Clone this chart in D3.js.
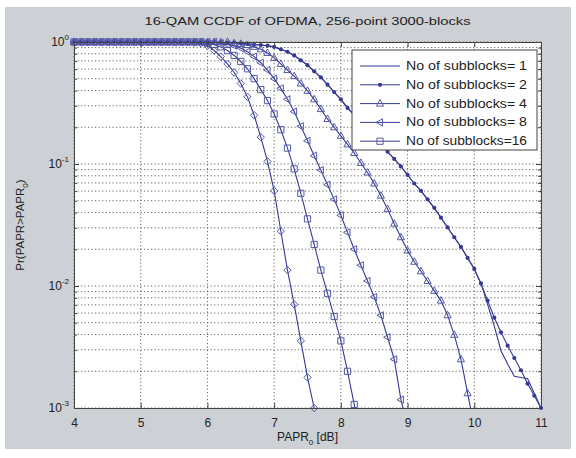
<!DOCTYPE html>
<html>
<head>
<meta charset="utf-8">
<script src="https://cdn.jsdelivr.net/npm/d3@7"></script>
<style>
  body { margin: 0; background: #fff; }
  text { font-family: "Liberation Sans", Arial, sans-serif; fill: #222; }
</style>
</head>
<body>
<div id="chart"></div>
<script>
// PAPR0 grid (dB)
var papr = [4.0,4.1,4.2,4.3,4.4,4.5,4.6,4.7,4.8,4.9,5.0,5.1,5.2,5.3,5.4,5.5,5.6,5.7,5.8,5.9,
  6.0,6.1,6.2,6.3,6.4,6.5,6.6,6.7,6.8,6.9,7.0,7.1,7.2,7.3,7.4,7.5,7.6,7.7,7.8,7.9,
  8.0,8.1,8.2,8.3,8.4,8.5,8.6,8.7,8.8,8.9,9.0,9.1,9.2,9.3,9.4,9.5,9.6,9.7,9.8,9.9,
  10.0,10.1,10.2,10.3,10.4,10.5,10.6,10.7,10.8,10.9,11.0];

// CCDF values, one per grid point
var ccdfSb1 = [1,1,1,1,1,1,1,1,1,1, 1,1,1,1,1,1,1,1,1,1, 1,1,1,0.989,0.989,0.977,0.966,0.955,0.944,0.933,
  0.912,0.871,0.832,0.776,0.708,0.646,0.575,0.513,0.447,0.389, 0.339,0.288,0.251,0.219,0.191,0.166,0.145,0.126,0.110,0.0955,
  0.0813,0.0692,0.0603,0.0513,0.0437,0.0363,0.0302,0.0251,0.0209,0.0170, 0.0138,0.0105,0.00708,0.00468,0.00295,0.00229,0.00182,0.00178,0.00174,0.00132,0.00100];
var ccdfSb2 = [1,1,1,1,1,1,1,1,1,1, 1,1,1,1,1,1,1,1,1,1, 1,1,1,0.989,0.989,0.977,0.966,0.955,0.944,0.933,
  0.912,0.871,0.832,0.776,0.708,0.646,0.575,0.513,0.447,0.389, 0.339,0.288,0.251,0.219,0.191,0.166,0.145,0.126,0.110,0.0955,
  0.0813,0.0692,0.0603,0.0513,0.0437,0.0363,0.0302,0.0251,0.0209,0.0170, 0.0138,0.0105,0.00759,0.00550,0.00417,0.00324,0.00257,0.00204,0.00158,0.00126,0.00100];
var ccdfSb4 = [1,1,1,1,1,1,1,1,1,1, 1,1,1,1,1,1,1,1,1,1, 1,1,1,1,0.977,0.966,0.944,0.912,0.871,0.813,
  0.741,0.661,0.589,0.525,0.457,0.398,0.339,0.282,0.234,0.200, 0.170,0.145,0.123,0.102,0.0851,0.0692,0.0550,0.0427,0.0324,0.0251,
  0.0195,0.0158,0.0132,0.0110,0.00912,0.00759,0.00575,0.00398,0.00251,0.00132, 0.0007];
var ccdfSb8 = [1,1,1,1,1,1,1,1,1,1, 1,1,1,1,1,1,1,1,1,1, 1,1,0.977,0.955,0.933,0.891,0.832,0.759,0.676,0.589,
  0.501,0.417,0.339,0.269,0.204,0.155,0.117,0.0891,0.0676,0.0513, 0.0380,0.0275,0.0200,0.0148,0.0110,0.00813,0.00575,0.00380,0.00251,0.00117,
  0.0007];
var ccdfSb16 = [1,1,1,1,1,1,1,1,1,1, 1,1,1,1,1,1,1,1,1,1, 0.977,0.955,0.912,0.851,0.776,0.692,0.603,0.501,0.407,0.331,
  0.257,0.191,0.135,0.0912,0.0575,0.0355,0.0219,0.0135,0.00871,0.00562, 0.00355,0.00200,0.00107,0.0005];
var ccdfExtra = [1,1,1,1,1,1,1,1,1,1, 1,1,1,1,1,1,1,1,0.989,0.977,
  0.933,0.851,0.759,0.661,0.562,0.457,0.355,0.251,0.166,0.105, 0.0603,0.0282,0.0135,0.00708,0.00355,0.00178,0.00100];

var legendLabels = ["No of subblocks= 1", "No of subblocks= 2", "No of subblocks= 4", "No of subblocks= 8", "No of subblocks=16"];
var xTicks = [4, 5, 6, 7, 8, 9, 10, 11];
var yDecades = [1e-3, 1e-2, 1e-1, 1];
var yExponents = ["-3", "-2", "-1", "0"];

var series = [
  {values: ccdfSb1, marker: "none"},
  {values: ccdfSb2, marker: "dot"},
  {values: ccdfSb4, marker: "tri"},
  {values: ccdfSb8, marker: "left"},
  {values: ccdfSb16, marker: "square"},
  {values: ccdfExtra, marker: "diamond"}
];

var W = 576, H = 458;
var pLeft = 74, pRight = 541, pTop = 42, pBottom = 408;
var lineColor = "#363a96", markColor = "#5659a6";

var svg = d3.select("#chart").append("svg").attr("width", W).attr("height", H);

svg.append("rect").attr("x", 5).attr("y", 7).attr("width", 566).attr("height", 442).attr("fill", "#cdd0d4");
svg.append("rect").attr("x", pLeft).attr("y", pTop).attr("width", pRight - pLeft).attr("height", pBottom - pTop).attr("fill", "#fff");

var x = d3.scaleLinear().domain([4, 11]).range([pLeft, pRight]);
var y = d3.scaleLog().domain([1e-3, 1]).range([pBottom, pTop]);

// grid
var minor = [];
[1e-3, 1e-2, 1e-1].forEach(function(d) {
  for (var k = 1; k <= 9; k++) minor.push(k * d);
});
minor.push(1);
var grid = svg.append("g").attr("stroke", "#555").attr("stroke-width", 0.9).attr("stroke-dasharray", "1.2,2.3");
grid.selectAll("line.gy").data(minor).enter().append("line")
  .attr("x1", pLeft).attr("x2", pRight).attr("y1", function(d) { return y(d); }).attr("y2", function(d) { return y(d); });
grid.selectAll("line.gx").data(xTicks).enter().append("line")
  .attr("y1", pTop).attr("y2", pBottom).attr("x1", function(d) { return x(d); }).attr("x2", function(d) { return x(d); });

// curves
svg.append("clipPath").attr("id", "clip").append("rect")
  .attr("x", pLeft).attr("y", pTop).attr("width", pRight - pLeft).attr("height", pBottom - pTop);

var line = d3.line().x(function(d) { return x(d[0]); }).y(function(d) { return y(d[1]); });

function markerPath(type) {
  if (type == "tri") return "M0,-4L3.6,2.5L-3.6,2.5Z";
  if (type == "left") return "M-4,0L2.5,-3.6L2.5,3.6Z";
  if (type == "square") return "M-3.1,-3.1H3.1V3.1H-3.1Z";
  if (type == "diamond") return "M0,-3.8L3.6,0L0,3.8L-3.6,0Z";
  return null;
}

series.forEach(function(s) {
  var pts = s.values.map(function(v, i) { return [papr[i], v]; });
  svg.append("path").datum(pts).attr("clip-path", "url(#clip)")
    .attr("fill", "none").attr("stroke", lineColor).attr("stroke-width", 1.1).attr("d", line);
  var shown = pts.filter(function(d) { return d[1] >= 1e-3; });
  if (s.marker == "dot") {
    svg.append("g").selectAll("circle").data(shown).enter().append("circle")
      .attr("cx", function(d) { return x(d[0]); }).attr("cy", function(d) { return y(d[1]); })
      .attr("r", 2.1).attr("fill", lineColor);
  } else if (s.marker != "none") {
    svg.append("g").selectAll("path").data(shown).enter().append("path")
      .attr("transform", function(d) { return "translate(" + x(d[0]) + "," + y(d[1]) + ")"; })
      .attr("d", markerPath(s.marker)).attr("fill", "none").attr("stroke", markColor).attr("stroke-width", 1);
  }
});

// axes
var xAxis = svg.append("g").attr("transform", "translate(0," + pBottom + ")")
  .call(d3.axisBottom(x).tickValues(xTicks).tickSize(-5).tickPadding(10).tickFormat(d3.format("d")));
var xAxisTop = svg.append("g").attr("transform", "translate(0," + pTop + ")")
  .call(d3.axisTop(x).tickValues(xTicks).tickSize(-5).tickFormat(""));
var yAxis = svg.append("g").attr("transform", "translate(" + pLeft + ",0)")
  .call(d3.axisLeft(y).tickValues(minor).tickSize(-3).tickFormat(""));
var yAxisR = svg.append("g").attr("transform", "translate(" + pRight + ",0)")
  .call(d3.axisRight(y).tickValues(minor).tickSize(-3).tickFormat(""));
[xAxis, xAxisTop, yAxis, yAxisR].forEach(function(a) {
  a.select(".domain").attr("stroke", "#444");
  a.selectAll(".tick line").attr("stroke", "#444");
  a.selectAll("text").attr("font-size", 12).attr("fill", "#222");
});
yAxis.selectAll(".tick line").filter(function(d) { return yDecades.indexOf(d) >= 0; }).attr("x2", 5);
yAxisR.selectAll(".tick line").filter(function(d) { return yDecades.indexOf(d) >= 0; }).attr("x2", -5);

// y tick labels 10^n
yDecades.forEach(function(d, i) {
  var t = svg.append("text").attr("x", pLeft - 5).attr("y", y(d) + 4).attr("text-anchor", "end").attr("font-size", 12);
  t.append("tspan").text("10");
  t.append("tspan").attr("font-size", 8).attr("dy", -6).text(yExponents[i]);
});

// titles
svg.append("text").attr("x", (pLeft + pRight) / 2).attr("y", 25).attr("text-anchor", "middle")
  .attr("font-size", 11.5).attr("textLength", 326).attr("lengthAdjust", "spacingAndGlyphs")
  .text("16-QAM CCDF of OFDMA, 256-point 3000-blocks");

var xl = svg.append("text").attr("x", (pLeft + pRight) / 2).attr("y", 441).attr("text-anchor", "middle").attr("font-size", 12);
xl.append("tspan").text("PAPR");
xl.append("tspan").attr("font-size", 8).attr("dy", 4).text("0");
xl.append("tspan").attr("dy", -4).text(" [dB]");

var yl = svg.append("text").attr("transform", "translate(24," + ((pTop + pBottom) / 2) + ") rotate(-90)")
  .attr("text-anchor", "middle").attr("font-size", 11.5);
yl.append("tspan").text("Pr(PAPR>PAPR");
yl.append("tspan").attr("font-size", 8).attr("dy", 4).text("0");
yl.append("tspan").attr("dy", -4).text(")");

// legend
var lg = svg.append("g").attr("transform", "translate(352,50)");
lg.append("rect").attr("width", 185).attr("height", 100).attr("fill", "#fff").attr("stroke", "#444");
legendLabels.forEach(function(lab, i) {
  var cy = 16 + i * 18.8;
  lg.append("line").attr("x1", 8).attr("x2", 48).attr("y1", cy).attr("y2", cy).attr("stroke", lineColor);
  var m = series[i].marker;
  if (m == "dot") {
    lg.append("circle").attr("cx", 28).attr("cy", cy).attr("r", 2.1).attr("fill", lineColor);
  } else if (m != "none") {
    lg.append("path").attr("transform", "translate(28," + cy + ")").attr("d", markerPath(m))
      .attr("fill", "none").attr("stroke", markColor);
  }
  lg.append("text").attr("x", 54).attr("y", cy + 4).attr("font-size", 12)
    .attr("textLength", 121).attr("lengthAdjust", "spacingAndGlyphs").text(lab);
});
</script>
</body>
</html>
